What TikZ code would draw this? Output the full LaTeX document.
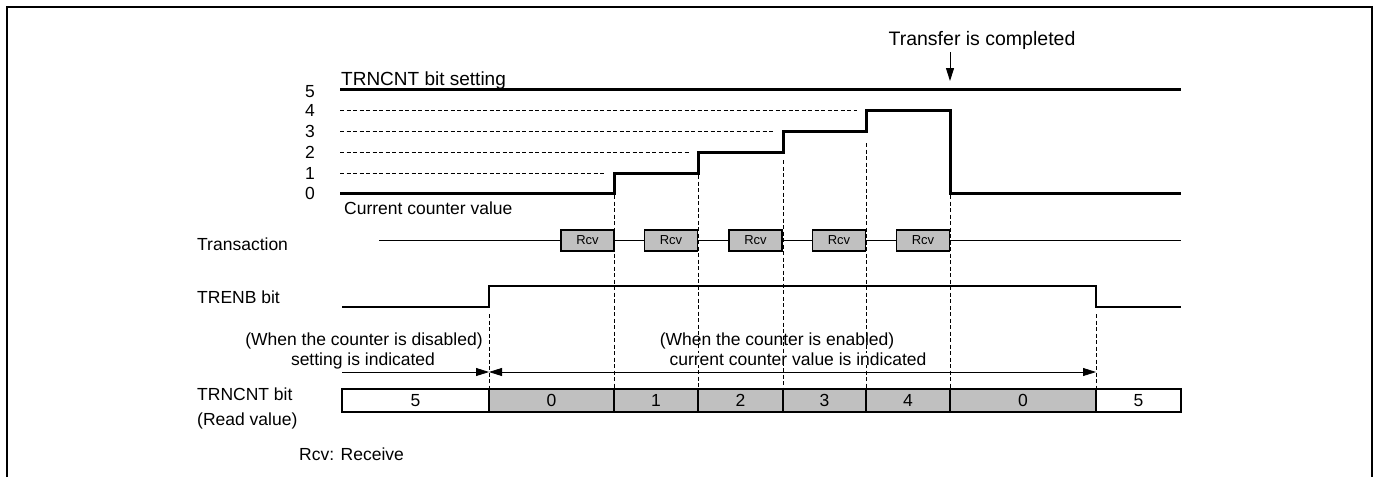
\documentclass[tikz,border=0pt]{standalone}
\usepackage{fontspec}
\setmainfont{Liberation Sans}
\usepackage{tikz}
\usetikzlibrary{arrows.meta}
\usepackage{xcolor}
\definecolor{cellgray}{HTML}{C0C0C0}
\tikzset{
	cell/.style={%
		draw, line width=1.6pt, fill=cellgray,
		minimum width=#1,
		minimum height=23pt,
		inner sep=0pt, outer sep=0pt,
		font=\fontsize{17.5}{20}\selectfont
	},
	cell/.default=85pt,
	rcvbox/.style={%
		draw, line width=1.6pt, fill=cellgray,
		minimum width=53pt,
		minimum height=21pt,
		inner sep=0pt,
		font=\fontsize{13}{15}\selectfont
	},
	lbl/.style={inner sep=0pt, font=\fontsize{17.5}{20}\selectfont},
	wave/.style={line width=#1, line join=miter},
	wave/.default=3pt,
	guide/.style={dash pattern=on 4pt off 2.5pt, line width=0.9pt},
	>={Triangle[length=13pt,width=8pt]}
}
\begin{document}
\begin{tikzpicture}[x=1pt,y=-1pt]
		\useasboundingbox (0,0) rectangle (1374,477);
		
		% frame around the figure
		\draw[line width=2.5pt] (7,477) -- (7,7) -- (1372,7) -- (1372,477);
		
		% counter setting and current value
		\node[lbl,font=\fontsize{19.5}{22}\selectfont] (transfer) at (982,40) {Transfer is completed};
		\node[lbl,font=\fontsize{19}{22}\selectfont,anchor=west] (setting) at (341,80.5) {TRNCNT bit setting};
		\node[lbl] (lvl5) at (310,92) {5};
		\node[lbl] (lvl4) at (310,110) {4};
		\node[lbl] (lvl3) at (310,131) {3};
		\node[lbl] (lvl2) at (310,152) {2};
		\node[lbl] (lvl1) at (310,173) {1};
		\node[lbl] (lvl0) at (310,193) {0};
		\node[lbl,anchor=west] (current) at (344,208) {Current counter value};
		
		\coordinate (done) at (950,81);
		\draw[->,line width=1pt,shorten <=3pt] (transfer.south -| done) -- (done);
		
		\draw[wave] (340,89) -- (1181,89);
		\draw[guide] (340,173) -- (605,173);
		\draw[guide] (340,152) -- (689,152);
		\draw[guide] (340,131) -- (775,131);
		\draw[guide] (340,110) -- (857,110);
		\draw[wave] (340,193) -- (614,193) -- (614,173) -- (698,173) -- (698,152)
			-- (783,152) -- (783,131) -- (866,131) -- (866,110) -- (950,110)
			-- (950,193) -- (1181,193);
		
		% transaction row
		\node[lbl,anchor=west] (transaction) at (197,244) {Transaction};
		\draw[line width=0.9pt] (379,240) -- (1181,240);
		\node[rcvbox] (rcv1) at (587.5,240.5) {Rcv};
		\node[rcvbox] (rcv2) at (671,240.5) {Rcv};
		\node[rcvbox] (rcv3) at (755.5,240.5) {Rcv};
		\node[rcvbox] (rcv4) at (839,240.5) {Rcv};
		\node[rcvbox] (rcv5) at (923,240.5) {Rcv};
		
		% TRENB bit
		\node[lbl,anchor=west] (trenb) at (197,297.5) {TRENB bit};
		\draw[wave=2pt] (342,307) -- (489,307) -- (489,286) -- (1096,286) -- (1096,307) -- (1181,307);
		
		% read value row
		\node[lbl,anchor=west] (readA) at (197,394) {TRNCNT bit};
		\node[lbl,anchor=west] (readB) at (197,421) {(Read value)};
		\node[cell=147pt,fill=white] (fiveA) at (415.5,400.5) {5};
		\node[cell=125pt] (zeroA) at (551.5,400.5) {0};
		\node[cell=84pt] (one) at (656,400.5) {1};
		\node[cell=85pt] (two) at (740.5,400.5) {2};
		\node[cell=83pt] (three) at (824.5,400.5) {3};
		\node[cell=84pt] (four) at (908,400.5) {4};
		\node[cell=146pt] (zeroB) at (1023,400.5) {0};
		\node[cell=85pt,fill=white] (fiveB) at (1138.5,400.5) {5};
		
		%dashed lines down to the read value
		\draw[guide] (614,195) -- (one.north west);
		\draw[guide] (698,175) -- (two.north west);
		\draw[guide] (783,160) -- (three.north west);
		\draw[guide] (866,143) -- (four.north west);
		\draw[guide] (950,195) -- (zeroB.north west);
		\draw[guide] (489,314) -- (zeroA.north west);
		\draw[guide] (1096,314) -- (fiveB.north west);
		
		\node[lbl] (disA) at (364,341) {(When the counter is disabled)};
		\node[lbl] (disB) at (363,361) {setting is indicated};
		\node[lbl] (enA) at (777,341) {(When the counter is enabled)};
		\node[lbl,fill=white] (enB) at (798,359) {current counter value is indicated};
		
		%arrows between the dashed lines
		\coordinate (arrL) at (342,372);
		\coordinate (arrM) at (489,372);
		\coordinate (arrR) at (1096,372);
		\draw[->,line width=0.8pt] (arrL) -- (arrM);
		\draw[<->,line width=0.8pt] (arrM) -- (arrR);
		
		\node[lbl,anchor=west] (legend) at (299,454) {Rcv: Receive};
		
\end{tikzpicture}
\end{document}
